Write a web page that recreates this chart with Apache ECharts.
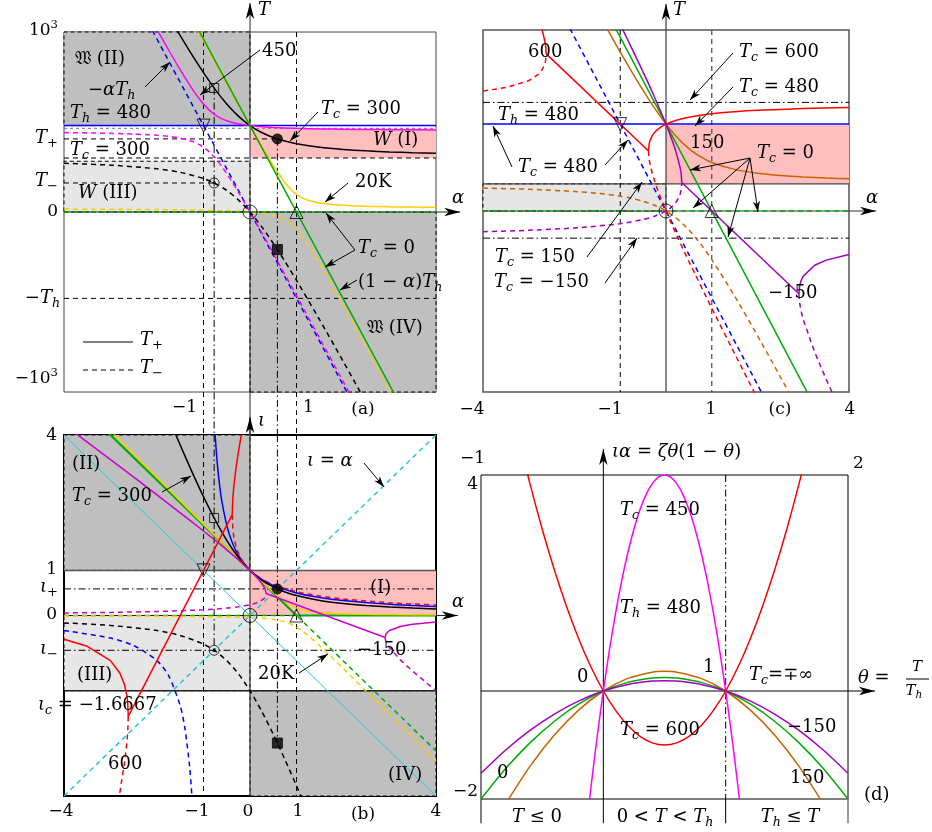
<!DOCTYPE html>
<html>
<head>
<meta charset="utf-8">
<script src="https://cdn.jsdelivr.net/npm/echarts@6/dist/echarts.min.js"></script>
<style>
html,body{margin:0;padding:0;background:#fff;}
#fig{width:932px;height:832px;}
</style>
</head>
<body>
<div id="fig"></div>
<script>
// ---------------------------------------------------------------
// Working temperatures T_+ / T_- versus alpha (panels a, c),
// normalised iota versus alpha (panel b) and the parabolas
// iota*alpha = zeta*theta*(1-theta) (panel d).  T_h = 480.
// ---------------------------------------------------------------

// ---- panel (a): T versus alpha --------------------------------
const a_Th480      = [[-4, 480], [4, 480]];
const a_negAlphaTh = [[-2.1, 1008], [2.1, -1008]];
const a_Tp450 = [[-2.1,1060],[-2,1013.9],[-1.75,900],[-1.5,789.7],[-1.25,687],[-1.1,632.1],[-1,600],[-0.875,566.2],[-0.75,540],[-0.6,517.6],[-0.5,507],[-0.4,498.8],[-0.25,489.7],[-0.1,483.3],[0,480],[0.1,477.3],[0.25,473.9],[0.5,469.9],[1,464.8],[1.5,461.7],[2,459.7],[2.5,458.3],[3,457.2],[4,455.8]];
const a_Tm450 = [[-4,441.1],[-3.5,439.4],[-3,436.9],[-2.5,433.1],[-2,426.1],[-1.75,420],[-1.5,410.3],[-1.25,393],[-1.1,375.9],[-1,360],[-0.875,333.8],[-0.75,300],[-0.6,250.4],[-0.5,213],[-0.4,173.2],[-0.25,110.3],[-0.1,44.7],[0,0],[0.1,-45.3],[0.25,-113.9],[0.5,-229.9],[1,-464.8],[1.5,-701.7],[2,-939.7],[2.25,-1059]];
const a_Tp300 = [[-1.6,1022.7],[-1.5,979.5],[-1.25,874],[-1,773.9],[-0.75,681.5],[-0.5,600],[-0.25,532.4],[0,480],[0.25,441.5],[0.5,413.9],[0.75,394],[1,379.5],[1.5,360],[2,347.9],[2.5,339.7],[3,333.9],[3.5,329.5],[4,326.1]];
const a_Tm300 = [[-4,270.5],[-3,260.3],[-2,240],[-1.5,220.5],[-1,186.1],[-0.75,158.5],[-0.5,120],[-0.25,67.6],[0,0],[0.25,-81.5],[0.5,-173.9],[0.75,-274],[1,-379.5],[1.5,-600],[2,-827.9],[2.5,-1059.7]];
const a_Tp20 = [[-1.2,1045],[-1,949.9],[-0.75,831.3],[-0.5,713.3],[-0.25,596],[0,480],[0.25,366.5],[0.5,258.6],[0.75,163.9],[0.9,120],[1,98],[1.1,81.5],[1.25,64.9],[1.5,49.7],[2,37.1],[2.5,31.9],[3,29.1],[3.5,27.4],[4,26.2]];
const a_Tm20 = [[-4,16.1],[-3,15.1],[-2,13.5],[-1.5,12.1],[-1,10.1],[-0.5,6.7],[-0.25,4],[0,0],[0.25,-6.5],[0.5,-18.6],[0.75,-43.9],[0.9,-72],[1,-98],[1.1,-129.5],[1.25,-184.9],[1.5,-289.7],[2,-517.1],[2.5,-751.9],[3,-989.1],[3.1,-1036.7]];
const a_Tp0 = [[-1.2, 1056], [3.2, -1056]];
const a_Tm0 = [[-4, 0], [4, 0]];

// reference lines of panel (a)
const a_hTplus  = [[-4, 406.1], [0.589, 406.1]];
const a_hTminus = [[-4, 161.2], [-0.771, 161.2]];
const a_hTc300  = [[-4, 300], [4, 300]];
const a_hTop    = [[-4, 465], [4, 465]];
const a_hNegTh  = [[-4, -480], [4, -480]];
const a_vM1     = [[-1, 1000], [-1, -1240]];
const a_vP1     = [[1, 1000], [1, -1240]];
const a_vAm     = [[-0.771, 689], [-0.771, -1240]];
const a_vAp     = [[0.589, 406.1], [0.589, -1240]];

// shaded regions of panel (a)
const a_regII  = [[-4, 480], [0, 1000]];
const a_regI   = [[0, 300], [4, 465]];
const a_regIII = [[-4, 0], [0, 282]];
const a_regIV  = [[0, -1000], [4, 0]];

// marked points of panel (a)
const a_ptOrigin  = [[0, 0]];
const a_ptPlus    = [[0.589, 406.1]];
const a_ptPlusLow = [[0.589, -208.8]];
const a_ptMinus   = [[-0.771, 161.2]];
const a_ptMinusHi = [[-0.771, 689]];
const a_ptDown    = [[-1, 480]];
const a_ptUp      = [[1, 0]];

// ---- panel (b): iota versus alpha ------------------------------
const b_iAlpha    = [[-4, -4], [4, 4]];
const b_iNegAlpha = [[-4, 4], [4, -4]];
const b_p480 = [[-0.8,5],[-0.75,4],[-0.7,3.333],[-0.65,2.857],[-0.6,2.5],[-0.5,2],[-0.4,1.667],[-0.25,1.333],[0,1],[0.25,0.8],[0.5,0.667],[1,0.5],[1.5,0.4],[2,0.333],[3,0.25],[4,0.2]];
const b_m480 = [[-4,-0.333],[-3,-0.5],[-2.5,-0.667],[-2,-1],[-1.75,-1.333],[-1.5,-2],[-1.4,-2.5],[-1.3,-3.333],[-1.25,-4],[-1.2,-5]];
const b_p300 = [[-1.75,4.38],[-1.5,3.775],[-1.25,3.189],[-1,2.633],[-0.75,2.119],[-0.5,1.667],[-0.25,1.291],[0,1],[0.25,0.786],[0.5,0.633],[0.75,0.522],[1,0.442],[1.5,0.333],[2,0.266],[2.5,0.221],[3,0.188],[3.5,0.164],[4,0.145]];
const b_m300 = [[-4,-0.164],[-3,-0.221],[-2,-0.333],[-1.5,-0.442],[-1,-0.633],[-0.75,-0.786],[-0.5,-1],[-0.25,-1.291],[0,-1.667],[0.25,-2.119],[0.5,-2.633],[0.75,-3.189],[1,-3.775],[1.25,-4.38]];
const b_600SolidLeft = [[-4,-0.528],[-3.5,-0.683],[-3,-1],[-2.8,-1.273],[-2.7,-1.528],[-2.65,-1.762],[-2.63,-1.932],[-2.618,-2.236]];
const b_600DashLeft  = [[-2.618,-2.236],[-2.63,-2.588],[-2.65,-2.838],[-2.7,-3.27],[-2.8,-3.93],[-2.85,-4.213]];
const b_600Real      = [[-2.618,-2.236],[-0.382,2.236]];
const b_600SolidMid  = [[-0.382,2.236],[-0.37,2.588],[-0.35,2.838],[-0.3,3.272],[-0.25,3.618],[-0.2,3.927],[-0.15,4.213]];
const b_600DashMid   = [[-0.382,2.236],[-0.37,1.932],[-0.35,1.762],[-0.3,1.528],[-0.25,1.382],[-0.2,1.273],[-0.1,1.115],[0,1]];
const b_600DashRight = [[0,1],[0.25,0.808],[0.5,0.683],[1,0.528],[1.5,0.433],[2,0.367],[3,0.283],[4,0.23]];
const b_n150SolidLeft  = [[-3.75,4.036],[-3.5,3.843],[-3,3.455],[-2,2.673],[-1.5,2.276],[-1,1.873],[-0.75,1.667],[-0.5,1.455],[-0.25,1.236],[0,1],[0.1,0.896],[0.2,0.781],[0.3,0.634],[0.33,0.566],[0.344,0.488]];
const b_n150Real       = [[0.344,0.488],[2.906,-0.488]];
const b_n150SolidRight = [[2.906,-0.488],[2.92,-0.421],[2.95,-0.376],[3,-0.333],[3.25,-0.238],[3.5,-0.193],[4,-0.143]];
const b_n150DashRight  = [[2.906,-0.488],[2.92,-0.566],[2.95,-0.634],[3,-0.714],[3.25,-1],[3.5,-1.236],[4,-1.667]];
const b_n150DashLeft   = [[-4,0.056],[-3,0.069],[-2,0.089],[-1,0.127],[-0.5,0.164],[-0.25,0.193],[0,0.238],[0.1,0.266],[0.2,0.305],[0.3,0.375],[0.33,0.421],[0.344,0.488]];
const b_p20 = [[-3,4.098],[-2.5,3.577],[-2,3.058],[-1.5,2.539],[-1,2.022],[-0.5,1.507],[0,1],[0.25,0.753],[0.5,0.519],[0.75,0.313],[0.9,0.217],[1,0.17],[1.1,0.134],[1.25,0.098],[1.5,0.065],[2,0.037],[2.5,0.026],[3,0.02],[4,0.014]];
const b_m20 = [[-4,-0.009],[-2,-0.014],[0,-0.043],[0.25,-0.058],[0.5,-0.084],[0.75,-0.139],[0.9,-0.2],[1,-0.257],[1.1,-0.325],[1.25,-0.445],[1.5,-0.673],[2,-1.168],[2.5,-1.678],[3,-2.194],[3.5,-2.711],[4,-3.23]];
const b_p0 = [[-3.2,4.2],[1,0],[4,0]];
const b_m0 = [[-4,0],[1,0],[4,-3]];

const b_vM1 = [[-1, 4], [-1, -4]];
const b_vP1 = [[1, 4], [1, -4]];
const b_vAm = [[-0.771, 4], [-0.771, -0.771]];
const b_vAp = [[0.589, 4], [0.589, -2.827]];
const b_hIplus  = [[-4, 0.589], [4, 0.589]];
const b_hIminus = [[-4, -0.771], [4, -0.771]];
const b_hOne    = [[-4, 1], [4, 1]];
const b_hIc     = [[-4, -1.6667], [4, -1.6667]];

const b_regII  = [[-4, 1], [0, 4]];
const b_regI   = [[0, 0], [4, 1]];
const b_regIII = [[-4, -1.6667], [0, 0]];
const b_regIV  = [[0, -4], [4, -1.6667]];

const b_ptOrigin  = [[0, 0]];
const b_ptPlus    = [[0.589, 0.589]];
const b_ptPlusLow = [[0.589, -2.827]];
const b_ptMinus   = [[-0.771, -0.771]];
const b_ptMinusHi = [[-0.771, 2.16]];
const b_ptDown    = [[-1, 1]];
const b_ptUp      = [[1, 0]];

// ---- panel (c): T versus alpha, further T_c -------------------
const c_Th480      = [[-4, 480], [4, 480]];
const c_negAlphaTh = [[-2.1, 1008], [2.1, -1008]];
const c_p0 = [[-1.2, 1056], [3.2, -1056]];
const c_m0 = [[-4, 0], [4, 0]];
const c_p150 = [[-1.4,1056.6],[-1.25,989],[-1,878],[-0.75,769.8],[-0.5,666],[-0.25,568.3],[0,480],[0.25,404.5],[0.5,344.5],[0.75,300],[1,268.3],[1.5,229.9],[2,209],[2.5,196.4],[3,188.1],[3.5,182.3],[4,178]];
const c_m150 = [[-4,126.7],[-3,120],[-2,108.1],[-1.5,98],[-1,82],[-0.75,70.2],[-0.5,54],[-0.25,31.7],[0,0],[0.25,-44.5],[0.5,-104.5],[0.75,-180],[1,-268.3],[1.5,-469.9],[2,-689],[2.5,-916.4],[2.75,-1031.9]];
const c_n150SolidLeft  = [[-1,1029.9],[-0.9,978.2],[-0.75,900],[-0.5,766.9],[-0.25,628.6],[0,480],[0.1,414.6],[0.2,341.9],[0.3,249.4],[0.33,206.6],[0.344,157.4]];
const c_n150Real       = [[0.344,157.4],[2.906,-457.4]];
const c_n150SolidRight = [[2.906,-457.4],[2.92,-415],[2.95,-386.6],[3,-360],[3.25,-300],[3.5,-271.4],[4,-240]];
const c_n150DashRight  = [[2.906,-457.4],[2.92,-506.6],[2.95,-549.4],[3,-600],[3.25,-780],[3.5,-928.6],[3.6,-984.8],[3.7,-1039.8]];
const c_n150DashLeft   = [[-4,-114.5],[-3,-106.6],[-2,-93.9],[-1,-69.9],[-0.5,-46.9],[-0.25,-28.6],[0,0],[0.1,17.4],[0.2,42.1],[0.3,86.6],[0.33,115],[0.344,157.4]];
const c_600SolidTop   = [[-2.618,868.3],[-2.63,910.6],[-2.65,940.6],[-2.7,992.6],[-2.72,1010]];
const c_600DashLeft   = [[-4,663.3],[-3.5,682],[-3,720],[-2.8,752.8],[-2.7,783.4],[-2.65,811.4],[-2.63,831.8],[-2.618,868.3]];
const c_600Real       = [[-2.618,868.3],[-0.382,331.7]];
const c_600SolidMid   = [[-0.382,331.7],[-0.37,368.2],[-0.35,388.6],[-0.3,416.6],[-0.25,434.2],[-0.2,447.2],[-0.1,466.2],[0,480]];
const c_600DashMid    = [[-0.382,331.7],[-0.37,289.4],[-0.35,259.4],[-0.3,207.4],[-0.25,165.8],[-0.2,128.8],[-0.1,61.8],[0,0]];
const c_600SolidRight = [[0,480],[0.1,490.7],[0.25,503.1],[0.5,518],[1,536.7],[1.5,548.1],[2,556],[3,566.1],[4,572.4]];
const c_600DashRight  = [[0,0],[0.1,-58.7],[0.25,-143.1],[0.5,-278],[1,-536.7],[1.5,-788.1],[2,-1036]];

const c_h600  = [[-4, 600], [4, 600]];
const c_hN150 = [[-4, -150], [4, -150]];
const c_h150  = [[-4, 150], [4, 150]];
const c_vM1   = [[-1, 1000], [-1, -1000]];
const c_vP1   = [[1, 1000], [1, -1000]];

const c_regPink = [[0, 150], [4, 475]];
const c_regGray = [[-4, 0], [0, 150]];

const c_ptOrigin = [[0, 0]];
const c_ptDown   = [[-1, 480]];
const c_ptUp     = [[1, 0]];

// ---- panel (d): iota*alpha versus theta -----------------------
const d_600 = [[-0.7,4.76],[-0.6,3.84],[-0.5,3],[-0.4,2.24],[-0.3,1.56],[-0.2,0.96],[-0.1,0.44],[0,0],[0.1,-0.36],[0.2,-0.64],[0.3,-0.84],[0.4,-0.96],[0.5,-1],[0.6,-0.96],[0.7,-0.84],[0.8,-0.64],[0.9,-0.36],[1,0],[1.1,0.44],[1.2,0.96],[1.3,1.56],[1.4,2.24],[1.5,3],[1.6,3.84],[1.7,4.76]];
const d_450 = [[-0.12,-2.15],[-0.1,-1.76],[-0.05,-0.84],[0,0],[0.05,0.76],[0.1,1.44],[0.15,2.04],[0.2,2.56],[0.25,3],[0.3,3.36],[0.35,3.64],[0.4,3.84],[0.45,3.96],[0.5,4],[0.55,3.96],[0.6,3.84],[0.65,3.64],[0.7,3.36],[0.75,3],[0.8,2.56],[0.85,2.04],[0.9,1.44],[0.95,0.76],[1,0],[1.05,-0.84],[1.1,-1.76],[1.12,-2.15]];
const d_150 = [[-0.8,-2.095],[-0.6,-1.396],[-0.4,-0.815],[-0.2,-0.349],[0,0],[0.2,0.233],[0.4,0.349],[0.5,0.364],[0.6,0.349],[0.8,0.233],[1,0],[1.2,-0.349],[1.4,-0.815],[1.6,-1.396],[1.8,-2.095]];
const d_0 = [[-1,-2],[-0.8,-1.44],[-0.6,-0.96],[-0.4,-0.56],[-0.2,-0.24],[0,0],[0.2,0.16],[0.4,0.24],[0.5,0.25],[0.6,0.24],[0.8,0.16],[1,0],[1.2,-0.24],[1.4,-0.56],[1.6,-0.96],[1.8,-1.44],[2,-2]];
const d_n150 = [[-1,-1.524],[-0.8,-1.097],[-0.6,-0.731],[-0.4,-0.427],[-0.2,-0.183],[0,0],[0.2,0.122],[0.4,0.183],[0.5,0.19],[0.6,0.183],[0.8,0.122],[1,0],[1.2,-0.183],[1.4,-0.427],[1.6,-0.731],[1.8,-1.097],[2,-1.524]];
const d_vOne   = [[1, 4], [1, -2]];
const d_tickL  = [[-1, -2], [-1, -2.45]];
const d_tickM  = [[1, -2], [1, -2.45]];
const d_tickR  = [[2, -2], [2, -2.45]];

// ---------------------------------------------------------------
const C = {
  blue: '#0000ff', mag: '#ff00ff', black: '#000000', yellow: '#ffcc00',
  green: '#00aa00', red: '#ff0000', orange: '#c86400', purple: '#a000c0',
  bpurple: '#cc00cc', cyan: '#22c8d8', gray: '#bfbfbf', light: '#e6e6e6', pink: '#ffbfbf'
};
const DASH = [5, 4];
const DOT  = [3, 3];
const DASHDOT = [7, 3, 1.5, 3];
const SMOOTH = 0.25;

function curve(g, data, color, dashed, extra) {
  return Object.assign({
    type: 'line', xAxisIndex: g, yAxisIndex: g, data: data,
    symbol: 'none', showSymbol: false, silent: true, animation: false,
    smooth: SMOOTH, z: 3,
    lineStyle: { color: color, width: 1.5, type: dashed ? DASH : 'solid' }
  }, extra || {});
}
function straight(g, data, color, type, width, extra) {
  return Object.assign({
    type: 'line', xAxisIndex: g, yAxisIndex: g, data: data,
    symbol: 'none', showSymbol: false, silent: true, animation: false,
    smooth: false, z: 2,
    lineStyle: { color: color, width: width || 1, type: type || 'solid' }
  }, extra || {});
}
function region(g, box, color, border) {
  return {
    type: 'line', xAxisIndex: g, yAxisIndex: g, data: [], silent: true, z: 1,
    markArea: {
      silent: true,
      itemStyle: { color: color, borderColor: border ? '#000' : 'transparent', borderWidth: border ? 1 : 0, borderType: [4, 3] },
      data: [[{ coord: box[0] }, { coord: box[1] }]]
    }
  };
}
function pts(g, data, symbol, size, fill, rot) {
  return {
    type: 'scatter', xAxisIndex: g, yAxisIndex: g, data: data, symbol: symbol,
    symbolSize: size, symbolRotate: rot || 0, silent: true, animation: false, z: 6, clip: false,
    itemStyle: { color: fill, borderColor: '#000', borderWidth: 1 }
  };
}
function markerSet(g, origin, plus, plusLow, minus, minusHi, down, up) {
  const s = [
    pts(g, origin, 'circle', 14, 'rgba(0,0,0,0)'),
    pts(g, down, 'triangle', 13, 'rgba(0,0,0,0)', 180),
    pts(g, up, 'triangle', 13, 'rgba(0,0,0,0)')
  ];
  if (plus) {
    s.push(pts(g, plus, 'circle', 10, '#000'));
    s.push(pts(g, plusLow, 'rect', 10, '#000'));
    s.push(pts(g, minus, 'circle', 10, 'rgba(0,0,0,0)'));
    s.push(pts(g, minus, 'circle', 2.5, '#000'));
    s.push(pts(g, minusHi, 'rect', 9, 'rgba(0,0,0,0)'));
  }
  return s;
}
const NS = { smooth: false };

const series = [
  // ---------- (a)
  region(0, a_regII, C.gray, true),
  region(0, a_regI, C.pink, false),
  region(0, a_regIII, C.light, true),
  region(0, a_regIV, C.gray, true),
  straight(0, a_hTplus, '#000', DASH),
  straight(0, a_hTminus, '#000', DASH),
  straight(0, a_hTc300, '#000', DASH),
  straight(0, a_hTop, '#777', DOT),
  straight(0, a_hNegTh, '#000', DASH),
  straight(0, a_vM1, '#000', DASH, 1, { clip: false }),
  straight(0, a_vP1, '#000', DASH, 1, { clip: false }),
  straight(0, a_vAm, '#000', DASHDOT, 1, { clip: false }),
  straight(0, a_vAp, '#000', DASHDOT, 1, { clip: false }),
  curve(0, a_Th480, C.blue, false, NS),
  curve(0, a_negAlphaTh, C.blue, true, NS),
  curve(0, a_Tp450, C.mag, false),
  curve(0, a_Tm450, C.mag, true),
  curve(0, a_Tp300, C.black, false),
  curve(0, a_Tm300, C.black, true),
  curve(0, a_Tp20, C.yellow, false),
  curve(0, a_Tm20, C.yellow, true),
  curve(0, a_Tp0, C.green, false, NS),
  curve(0, a_Tm0, C.green, true, NS),
  ...markerSet(0, a_ptOrigin, a_ptPlus, a_ptPlusLow, a_ptMinus, a_ptMinusHi, a_ptDown, a_ptUp),

  // ---------- (b)
  region(1, b_regII, C.gray, true),
  region(1, b_regI, C.pink, false),
  region(1, b_regIII, C.light, true),
  region(1, b_regIV, C.gray, true),
  straight(1, b_vM1, '#000', DASH),
  straight(1, b_vP1, '#000', DASH),
  straight(1, b_vAm, '#000', DASHDOT),
  straight(1, b_vAp, '#000', DASHDOT),
  straight(1, b_hIplus, '#000', DASHDOT),
  straight(1, b_hIminus, '#000', DASHDOT),
  straight(1, b_hOne, '#555', 'solid', 1.5),
  straight(1, b_hIc, '#222', 'solid', 1.5),
  curve(1, b_iAlpha, C.cyan, true, NS),
  curve(1, b_iNegAlpha, C.cyan, false, { smooth: false, lineStyle: { color: C.cyan, width: 1 } }),
  curve(1, b_p0, C.green, false, { smooth: false, lineStyle: { color: C.green, width: 2.2 } }),
  curve(1, b_m0, C.green, true, NS),
  curve(1, b_p20, C.yellow, false),
  curve(1, b_m20, C.yellow, true),
  curve(1, b_600DashRight, C.red, true),
  curve(1, b_p480, C.blue, false),
  curve(1, b_m480, C.blue, true),
  curve(1, b_p300, C.black, false),
  curve(1, b_m300, C.black, true),
  curve(1, b_600SolidLeft, C.red, false, NS),
  curve(1, b_600DashLeft, C.red, true, NS),
  curve(1, b_600Real, C.red, false, NS),
  curve(1, b_600SolidMid, C.red, false, NS),
  curve(1, b_600DashMid, C.red, true, NS),
  curve(1, b_n150SolidLeft, C.bpurple, false),
  curve(1, b_n150Real, C.bpurple, false, NS),
  curve(1, b_n150SolidRight, C.bpurple, false, NS),
  curve(1, b_n150DashRight, C.bpurple, true, NS),
  curve(1, b_n150DashLeft, C.bpurple, true),
  ...markerSet(1, b_ptOrigin, b_ptPlus, b_ptPlusLow, b_ptMinus, b_ptMinusHi, b_ptDown, b_ptUp),

  // ---------- (c)
  region(2, c_regPink, C.pink, false),
  region(2, c_regGray, C.light, true),
  straight(2, c_h600, '#000', DASHDOT),
  straight(2, c_hN150, '#000', DASHDOT),
  straight(2, c_h150, '#444', 'solid', 1.2),
  straight(2, c_vM1, '#000', DASH),
  straight(2, c_vP1, '#555', DASH, 1.3),
  curve(2, c_Th480, C.blue, false, NS),
  curve(2, c_negAlphaTh, C.blue, true, NS),
  curve(2, c_p0, C.green, false, NS),
  curve(2, c_m0, C.green, true, NS),
  curve(2, c_p150, C.orange, false),
  curve(2, c_m150, C.orange, true),
  curve(2, c_n150SolidLeft, C.purple, false),
  curve(2, c_n150Real, C.purple, false, NS),
  curve(2, c_n150SolidRight, C.purple, false, NS),
  curve(2, c_n150DashRight, C.purple, true, NS),
  curve(2, c_n150DashLeft, C.purple, true),
  curve(2, c_600SolidTop, C.red, false, NS),
  curve(2, c_600DashLeft, C.red, true, NS),
  curve(2, c_600Real, C.red, false, NS),
  curve(2, c_600SolidMid, C.red, false, NS),
  curve(2, c_600DashMid, C.red, true, NS),
  curve(2, c_600SolidRight, C.red, false),
  curve(2, c_600DashRight, C.red, true),
  ...markerSet(2, c_ptOrigin, null, null, null, null, c_ptDown, c_ptUp),

  // ---------- (d)
  straight(3, d_vOne, '#000', DASHDOT),
  straight(3, d_tickL, '#000', 'solid', 1, { clip: false }),
  straight(3, d_tickM, '#000', 'solid', 1, { clip: false }),
  straight(3, d_tickR, '#777', 'solid', 1.5, { clip: false }),
  curve(3, d_600, C.red, false),
  curve(3, d_450, C.mag, false),
  curve(3, d_150, C.orange, false),
  curve(3, d_0, C.green, false),
  curve(3, d_n150, C.purple, false)
];

const grids = [
  { left: 64, top: 32, width: 372, height: 360, show: true, borderColor: '#444', borderWidth: 1 },
  { left: 64, top: 435, width: 372, height: 361, show: true, borderColor: '#000', borderWidth: 2 },
  { left: 483, top: 30, width: 366, height: 362, show: true, borderColor: '#555', borderWidth: 1.5 },
  { left: 481, top: 475, width: 367, height: 324, show: true, borderColor: '#000', borderWidth: 1 }
];
const xRanges = [[-4, 4], [-4, 4], [-4, 4], [-1, 2]];
const yRanges = [[-1000, 1000], [-4, 4], [-1000, 1000], [-2, 4]];

const option = {
  animation: false,
  backgroundColor: '#fff',
  grid: grids.map(g => Object.assign({ backgroundColor: 'transparent', containLabel: false }, g)),
  xAxis: xRanges.map((r, i) => ({ type: 'value', gridIndex: i, min: r[0], max: r[1], show: false })),
  yAxis: yRanges.map((r, i) => ({ type: 'value', gridIndex: i, min: r[0], max: r[1], show: false })),
  series: series
};

const chart = echarts.init(document.getElementById('fig'), null, { renderer: 'canvas' });
chart.setOption(option);

// ---------------------------------------------------------------
// axes, arrows and typeset labels
// ---------------------------------------------------------------
const P = (g, x, y) => chart.convertToPixel({ gridIndex: g }, [x, y]);
const FAM = '"DejaVu Serif","Liberation Serif",serif';
const FRAK = '"DejaVu Sans","DejaVu Serif","Noto Sans",serif';
const mctx = document.createElement('canvas').getContext('2d');
const G = [];

function head(tip, from, len, wid) {
  const dx = tip[0] - from[0], dy = tip[1] - from[1];
  const L = Math.hypot(dx, dy), ux = dx / L, uy = dy / L, nx = -uy, ny = ux;
  const bx = tip[0] - ux * len, by = tip[1] - uy * len;
  const nt = [tip[0] - ux * len * 0.72, tip[1] - uy * len * 0.72];
  return { type: 'polygon', z: 50, shape: { points: [tip, [bx + nx * wid, by + ny * wid], nt, [bx - nx * wid, by - ny * wid]] }, style: { fill: '#000' } };
}
function seg(p1, p2, color, w, dash) {
  return { type: 'line', z: 50, shape: { x1: p1[0], y1: p1[1], x2: p2[0], y2: p2[1] }, style: { stroke: color || '#000', lineWidth: w || 1, lineDash: dash || null } };
}
function arrow(from, tip) { G.push(seg(from, tip, '#000', 1)); G.push(head(tip, from, 11, 3.6)); }
function axis(p1, p2, color, w) {
  const s = seg(p1, p2, color, w); s.z = 2; G.push(s);
  const h = head(p2, p1, 16, 4.2); h.z = 2; G.push(h);
}
function tex(x, y, parts, align, size) {
  size = size || 18;
  const items = parts.map(p => {
    const s = p[0], k = p[1] || 'r';
    let fs = size, dy = 0, st = 'normal', fam = FAM;
    if (k === 'i') st = 'italic';
    if (k === 's') { fs = size * 0.7; dy = size * 0.3; st = 'italic'; }
    if (k === 'sr') { fs = size * 0.72; dy = size * 0.3; }
    if (k === 'p') { fs = size * 0.68; dy = -size * 0.38; }
    if (k === 'f') { fam = FRAK; }
    const f = st + ' ' + fs.toFixed(1) + 'px ' + fam;
    mctx.font = f;
    return { s: s, f: f, w: mctx.measureText(s).width, dy: dy };
  });
  const total = items.reduce((a, b) => a + b.w, 0);
  let cx = align === 'center' ? x - total / 2 : align === 'right' ? x - total : x;
  items.forEach(it => {
    G.push({ type: 'text', z: 60, x: cx, y: y + it.dy, style: { text: it.s, font: it.f, fill: '#000', align: 'left', verticalAlign: 'middle' } });
    cx += it.w;
  });
}
const Tc = v => [['T', 'i'], ['c', 's'], [' = ' + v, 'r']];

// axes with arrowheads
axis(P(0, -4, 0), P(0, 4.52, 0), '#222', 1);
axis(P(0, 0, -1240), P(0, 0, 1161), '#222', 1);
axis(P(1, -4, 0), P(1, 4.47, 0), '#222', 1.2);
axis(P(1, 0, -4), P(1, 0, 4.4), '#333', 1.2);
axis(P(2, -4, 0), P(2, 4.59, 0), '#333', 1.2);
axis(P(2, 0, -1000), P(2, 0, 1144), '#555', 1.4);
axis(P(3, -1, 0), P(3, 2.22, 0), '#000', 1);
axis(P(3, 0, -2.45), P(3, 0, 4.48), '#000', 1);

// ---- panel (a) labels
tex(75, 59, [['𝔚', 'f'], [' (II)', 'r']]);
tex(88, 90, [['−', 'r'], ['α', 'i'], ['T', 'i'], ['h', 's']]);
tex(70, 113, [['T', 'i'], ['h', 's'], [' = 480', 'r']]);
tex(70, 150, Tc('300'));
tex(78, 193, [['W', 'i'], [' (III)', 'r']]);
tex(262, 51, [['450', 'r']]);
tex(321, 109, Tc('300'));
tex(373, 140, [['W', 'i'], [' (I)', 'r']]);
tex(355, 182, [['20K', 'r']]);
tex(358, 248, Tc('0'));
tex(358, 282, [['(1 − ', 'r'], ['α', 'i'], [')', 'r'], ['T', 'i'], ['h', 's']]);
tex(367, 328, [['𝔚', 'f'], [' (IV)', 'r']]);
G.push(seg([83, 342], [133, 342], '#000', 1));
G.push(seg([83, 370], [133, 370], '#000', 1, [5, 4]));
tex(140, 340, [['T', 'i'], ['+', 'sr']]);
tex(140, 368, [['T', 'i'], ['−', 'sr']]);
tex(58, 31, [['10', 'r'], ['3', 'p']], 'right', 17);
tex(58, 138, [['T', 'i'], ['+', 'sr']], 'right');
tex(58, 181, [['T', 'i'], ['−', 'sr']], 'right');
tex(58, 212, [['0', 'r']], 'right', 17);
tex(60, 298, [['−', 'r'], ['T', 'i'], ['h', 's']], 'right');
tex(58, 379, [['−10', 'r'], ['3', 'p']], 'right', 17);
tex(197, 408, [['−1', 'r']], 'right', 17);
tex(303, 408, [['1', 'r']], 'left', 17);
tex(363, 410, [['(a)', 'r']], 'center', 17);
tex(258, 10, [['T', 'i']]);
tex(452, 198, [['α', 'i']]);
arrow([145, 87], [170, 62]);
arrow([260, 50], [200, 95]);
arrow([318, 112], [290, 141]);
arrow([348, 183], [325, 202]);
arrow([355, 250], [326, 213]);
arrow([355, 250], [325, 267]);
arrow([357, 280], [340, 290]);

// ---- panel (b) labels
tex(72, 464, [['(II)', 'r']]);
tex(72, 496, Tc('300'));
tex(307, 461, [['ι', 'i'], [' = ', 'r'], ['α', 'i']]);
tex(370, 588, [['(I)', 'r']]);
tex(357, 650, [['−150', 'r']]);
tex(258, 674, [['20K', 'r']]);
tex(77, 675, [['(III)', 'r']]);
tex(38, 705, [['ι', 'i'], ['c', 's'], [' = −1.6667', 'r']]);
tex(108, 764, [['600', 'r']]);
tex(388, 775, [['(IV)', 'r']]);
tex(57, 436, [['4', 'r']], 'right', 17);
tex(57, 570, [['1', 'r']], 'right', 17);
tex(58, 587, [['ι', 'i'], ['+', 'sr']], 'right');
tex(57, 615, [['0', 'r']], 'right', 17);
tex(58, 649, [['ι', 'i'], ['−', 'sr']], 'right');
tex(61, 812, [['−4', 'r']], 'center', 17);
tex(197, 812, [['−1', 'r']], 'center', 17);
tex(248, 812, [['0', 'r']], 'center', 17);
tex(298, 812, [['1', 'r']], 'center', 17);
tex(363, 815, [['(b)', 'r']], 'center', 17);
tex(436, 812, [['4', 'r']], 'center', 17);
tex(258, 421, [['ι', 'i']]);
tex(452, 602, [['α', 'i']]);
arrow([364, 463], [384, 487]);
arrow([162, 492], [191, 476]);
arrow([299, 673], [328, 654]);

// ---- panel (c) labels
tex(528, 52, [['600', 'r']]);
tex(739, 52, Tc('600'));
tex(739, 87, Tc('480'));
tex(498, 115, [['T', 'i'], ['h', 's'], [' = 480', 'r']]);
tex(518, 167, Tc('480'));
tex(690, 143, [['150', 'r']]);
tex(757, 153, Tc('0'));
tex(495, 257, Tc('150'));
tex(494, 282, Tc('−150'));
tex(768, 293, [['−150', 'r']]);
tex(472, 410, [['−4', 'r']], 'center', 17);
tex(610, 410, [['−1', 'r']], 'center', 17);
tex(711, 410, [['1', 'r']], 'center', 17);
tex(780, 410, [['(c)', 'r']], 'center', 17);
tex(850, 410, [['4', 'r']], 'center', 17);
tex(673, 10, [['T', 'i']]);
tex(866, 198, [['α', 'i']]);
arrow([733, 53], [690, 100]);
arrow([733, 87], [695, 126]);
arrow([512, 167], [493, 126]);
arrow([605, 165], [628, 140]);
arrow([587, 257], [642, 182]);
arrow([605, 283], [637, 238]);
arrow([750, 158], [690, 170]);
arrow([750, 158], [693, 208]);
arrow([750, 158], [728, 237]);
arrow([750, 158], [758, 212]);

// ---- panel (d) labels
tex(620, 510, Tc('450'));
tex(620, 608, [['T', 'i'], ['h', 's'], [' = 480', 'r']]);
tex(620, 730, Tc('600'));
tex(577, 677, [['0', 'r']]);
tex(703, 667, [['1', 'r']]);
tex(749, 675, [['T', 'i'], ['c', 's'], ['=∓∞', 'r']]);
tex(858, 678, [['θ', 'i'], [' =', 'r']]);
tex(917, 667, [['T', 'i']], 'center', 15);
G.push(seg([906, 679], [929, 679], '#000', 1));
tex(914, 691, [['T', 'i'], ['h', 's']], 'center', 15);
tex(612, 452, [['ια', 'i'], [' = ', 'r'], ['ζθ', 'i'], ['(1 − ', 'r'], ['θ', 'i'], [')', 'r']]);
tex(787, 727, [['−150', 'r']]);
tex(790, 778, [['150', 'r']]);
tex(497, 773, [['0', 'r']]);
tex(864, 795, [['(d)', 'r']]);
tex(485, 459, [['−1', 'r']], 'right', 17);
tex(853, 464, [['2', 'r']], 'left', 17);
tex(478, 485, [['4', 'r']], 'right', 17);
tex(478, 792, [['−2', 'r']], 'right', 17);
tex(537, 817, [['T', 'i'], [' ≤ 0', 'r']], 'center');
tex(665, 817, [['0 < ', 'r'], ['T', 'i'], [' < ', 'r'], ['T', 'i'], ['h', 's']], 'center');
tex(790, 817, [['T', 'i'], ['h', 's'], [' ≤ ', 'r'], ['T', 'i']], 'center');

chart.setOption({ graphic: { elements: G } });
</script>
</body>
</html>
